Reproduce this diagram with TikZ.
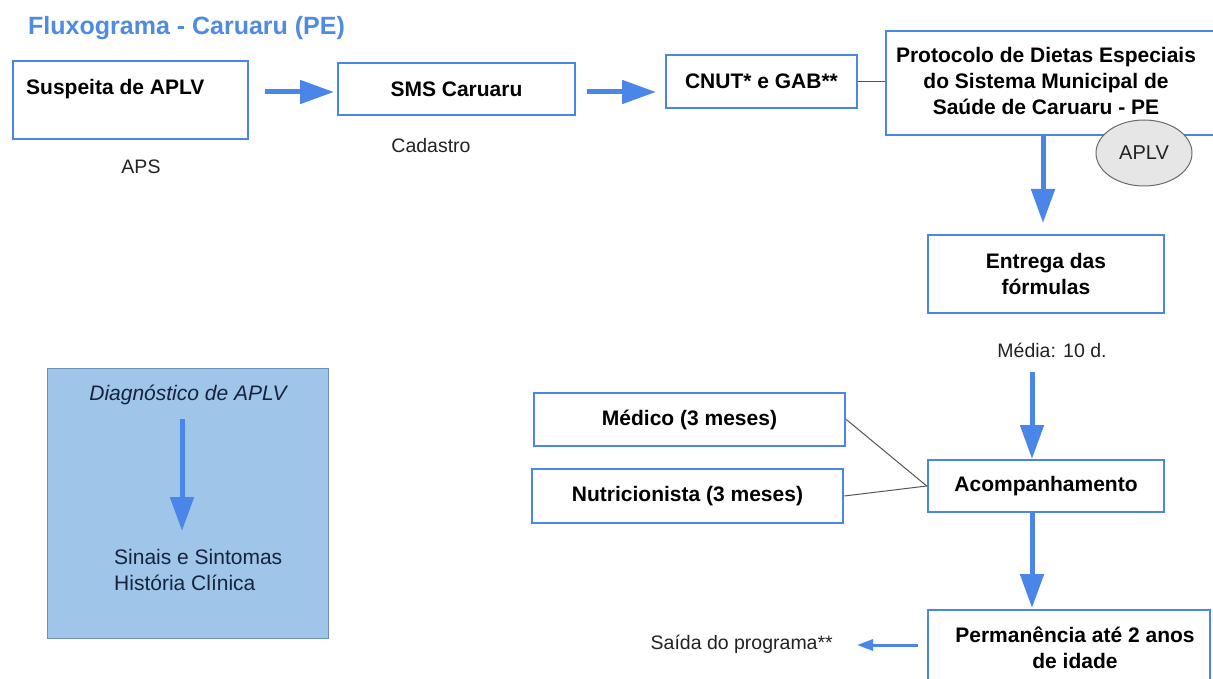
\documentclass[tikz,border=0pt]{standalone}
\usepackage{fontspec}
\setmainfont{Liberation Sans}
\usetikzlibrary{arrows.meta,shapes.geometric}

\definecolor{gblue}{HTML}{4A86E8}
\definecolor{titleblue}{HTML}{4F8BE0}
\definecolor{panelfill}{HTML}{9FC5E8}
\definecolor{panelline}{HTML}{6F8FB8}
\definecolor{conn}{HTML}{555555}
\definecolor{ovalfill}{HTML}{E6E6E6}
\definecolor{ovalline}{HTML}{6A6A6A}
\definecolor{labeltext}{HTML}{222222}
\definecolor{paneltext}{HTML}{16233D}

\tikzset{
  box/.style={draw=gblue, line width=2.5pt, fill=white, inner sep=0pt},
  boldtxt/.style={font=\fontsize{21pt}{26pt}\selectfont\bfseries, text=black, align=center, inner sep=0pt},
  plaintxt/.style={font=\fontsize{19.5pt}{24pt}\selectfont, text=labeltext, inner sep=0pt},
  paneltxt/.style={font=\fontsize{21pt}{26pt}\selectfont, text=paneltext, inner sep=0pt},
  flow/.style={draw=gblue, line width=5pt, -{Triangle[length=34pt,width=23pt]}},
  thinflow/.style={draw=gblue, line width=3pt, -{Triangle[length=16pt,width=11pt]}},
  link/.style={draw=conn, line width=1pt},
}

\begin{document}
\begin{tikzpicture}[x=1pt,y=-1pt]
\useasboundingbox (0,0) rectangle (1213,679);
\fill[white] (0,0) rectangle (1213,679);

% title
\node[font=\fontsize{25pt}{30pt}\selectfont\bfseries, text=titleblue, anchor=west, inner sep=0pt] (title) at (28,28) {Fluxograma - Caruaru (PE)};

% top row
\node[box, minimum width=235pt, minimum height=78pt] (susp) at (130.5,100) {};
\node[boldtxt, anchor=west] (susptxt) at (26,89) {Suspeita de APLV};
\node[plaintxt] (aps) at (141,167) {APS};

\node[box, minimum width=237pt, minimum height=52pt] (sms) at (456.5,89) {};
\node[boldtxt] (smstxt) at (sms.center) {SMS Caruaru};
\node[plaintxt] (cad) at (431,146) {Cadastro};

\node[box, minimum width=191pt, minimum height=53pt] (cnut) at (761.5,81.5) {};
\node[boldtxt] (cnuttxt) at (cnut.center) {CNUT* e GAB**};

\node[box, minimum width=334pt, minimum height=104pt] (prot) at (1053,83) {};
\node[boldtxt] (prottxt) at (1046,81) {Protocolo de Dietas Especiais\\do Sistema Municipal de\\Saúde de Caruaru - PE};

\node[ellipse, draw=ovalline, line width=1pt, fill=ovalfill, minimum width=96pt, minimum height=66pt, inner sep=0pt,
      font=\fontsize{20pt}{24pt}\selectfont, text=labeltext] (aplv) at (1144,153) {APLV};

% arrows of the top row
\coordinate (a1s) at (265,92);
\coordinate (a1e) at (334,92);
\coordinate (a2s) at (587,92);
\coordinate (a2e) at (656,92);
\draw[flow] (a1s) -- (a1e);
\draw[flow] (a2s) -- (a2e);
\draw[link] (cnut.east) -- (cnut.east -| prot.west);

% right column
\node[box, minimum width=236pt, minimum height=78pt] (entrega) at (1046,274) {};
\node[boldtxt] (entregatxt) at (entrega.center) {Entrega das\\fórmulas};
\coordinate (a3e) at (1043,223);
\draw[flow] (prot.south -| a3e) -- (a3e);

\node[plaintxt] (media) at (1052,350) {Média: 10 d.};

\node[box, minimum width=236pt, minimum height=52pt] (acomp) at (1046,486) {};
\node[boldtxt] (acomptxt) at (acomp.center) {Acompanhamento};
\coordinate (a4s) at (1032,372);
\coordinate (a4e) at (1032,459);
\draw[flow] (a4s) -- (a4e);

\node[box, minimum width=311pt, minimum height=53pt] (medico) at (689.5,419.5) {};
\node[boldtxt] (medicotxt) at (medico.center) {Médico (3 meses)};
\node[box, minimum width=311pt, minimum height=54pt] (nutri) at (687.5,496) {};
\node[boldtxt] (nutritxt) at (nutri.center) {Nutricionista (3 meses)};
\draw[link] (medico.east) -- (acomp.west);
\draw[link] (nutri.east) -- (acomp.west);

\node[box, minimum width=282pt, minimum height=104pt] (perm) at (1069,662) {};
\node[boldtxt] (permtxt) at (1075,648) {Permanência até 2 anos\\de idade};
\coordinate (a5e) at (1032,608);
\draw[flow] (acomp.south -| a5e) -- (a5e);

\node[plaintxt, anchor=east] (saida) at (833,644) {Saída do programa**};
\coordinate (a6s) at (918,645);
\coordinate (a6e) at (857,645);
\draw[thinflow] (a6s) -- (a6e);

% diagnosis panel
\node[draw=panelline, line width=1pt, fill=panelfill, minimum width=281pt, minimum height=270pt, inner sep=0pt] (panel) at (187.5,503) {};
\node[paneltxt, font=\fontsize{21pt}{26pt}\selectfont\itshape] (diag) at (188,395) {Diagnóstico de APLV};
\node[paneltxt, anchor=west, align=left] (sinais) at (114,570) {Sinais e Sintomas\\ História Clínica};
\coordinate (a7s) at (182,419);
\coordinate (a7e) at (182,531);
\draw[flow] (a7s) -- (a7e);
\end{tikzpicture}
\end{document}
